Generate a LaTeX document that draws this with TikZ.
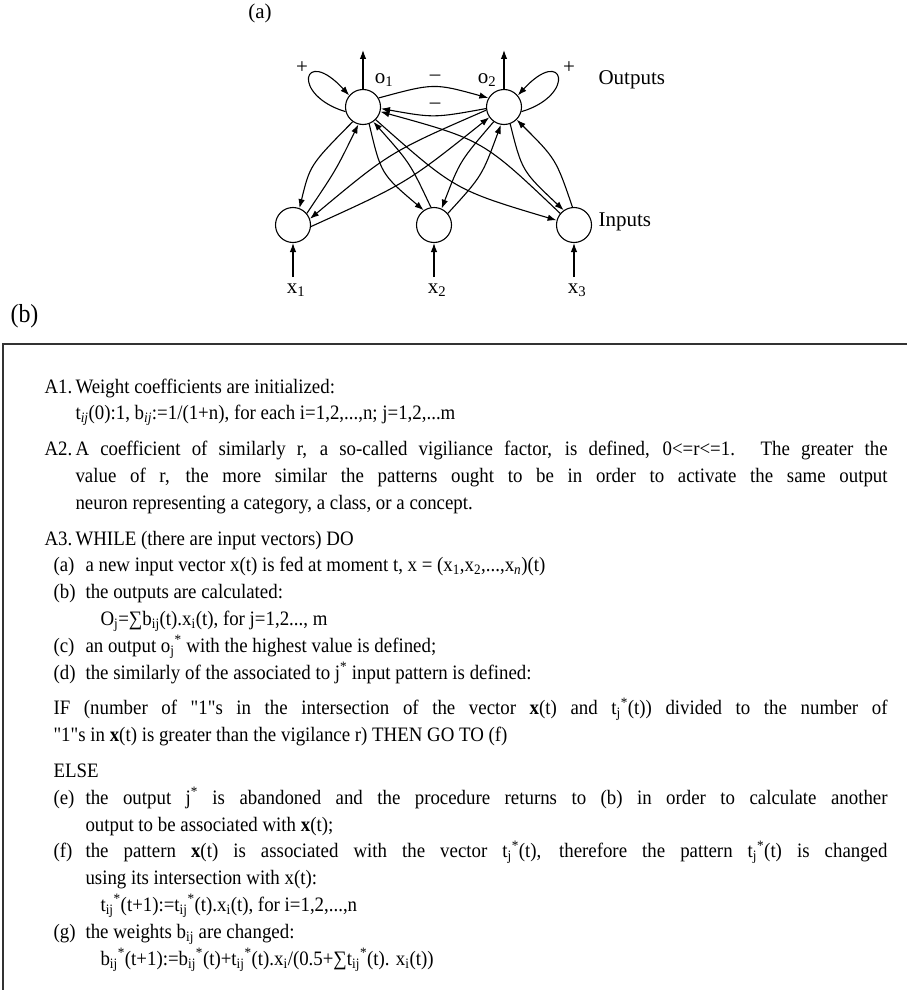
\documentclass[tikz,border=0pt]{standalone}
\usepackage{fontspec}
\setmainfont{Liberation Serif}
\newfontfamily\bodyfont[FakeStretch=0.92]{Liberation Serif}
\usetikzlibrary{arrows.meta}
\newcommand\sbs[1]{\textsubscript{#1}}
\newcommand\sps[1]{\textsuperscript{#1}}
\begin{document}
\begin{tikzpicture}[x=1pt,y=-1pt,line width=1.1pt,
  >={Latex[length=9pt,width=6.5pt]},
  neuron/.style={circle,draw,minimum size=35pt,inner sep=0pt},
  dlab/.style={inner sep=0pt,font=\fontsize{21}{24}\selectfont},
  txt/.style={anchor=base west,inner sep=0pt,font=\bodyfont\fontsize{20.5}{24}\selectfont},
  boxline/.style={line width=1.6pt,draw=black!80}]
\useasboundingbox (0,0) rectangle (906,990);
% ---------- (a) network ----------
\node[dlab] (alab) at (260,13) {(a)};
\node[neuron] (o1) at (363,107) {};
\node[neuron] (o2) at (504,107) {};
\node[neuron] (i1) at (293,225) {};
\node[neuron] (i2) at (434,225) {};
\node[neuron] (i3) at (574,225) {};
% outputs
\coordinate (o1t) at (363,50);
\coordinate (o2t) at (504,50);
\draw[->] (o1) -- (o1t);
\draw[->] (o2) -- (o2t);
\node[dlab] (o1lab) at (384,80) {o\sbs{1}};
\node[dlab] (o2lab) at (487,80) {o\sbs{2}};
\node[dlab,anchor=west] (outlab) at (598,80) {Outputs};
\node[dlab,anchor=west] (inlab) at (598,222) {Inputs};
% self loops
\draw[->] (o1.195) .. controls (290,95) and (303,45) .. (o1.140);
\draw[->] (o2.-15) .. controls (577,95) and (564,45) .. (o2.40);
\node[dlab] (p1) at (302,68) {+};
\node[dlab] (p2) at (569,68) {+};
% lateral inhibition
\draw[->] (o1.30) .. controls (434,83) .. (o2.150);
\draw[->] (o2.185) .. controls (434,118) .. (o1.355);
\node[dlab] (m1) at (435,78) {–};
\node[dlab] (m2) at (435,106) {–};
% inputs
\coordinate (x1s) at (293,277);
\coordinate (x2s) at (434,277);
\coordinate (x3s) at (574,277);
\draw[->] (x1s) -- (i1);
\draw[->] (x2s) -- (i2);
\draw[->] (x3s) -- (i3);
\node[dlab] (x1) at (296,290) {x\sbs{1}};
\node[dlab] (x2) at (437,290) {x\sbs{2}};
\node[dlab] (x3) at (577,290) {x\sbs{3}};
% o1 <-> i1
\draw[->] (o1.235) .. controls (310,165) .. (i1.69);
\draw[->] (i1.40) .. controls (336,170) .. (o1.255);
% o1 <-> i2
\draw[->] (o1.290) .. controls (381,174) .. (i2.125);
\draw[->] (i2.100) .. controls (410,163) .. (o1.305);
% o1 <-> i3
\draw[->] (o1.315) .. controls (455,190) .. (i3.165);
\draw[->] (i3.140) .. controls (483,140) .. (o1.345);
% o2 <-> i1
\draw[->] (o2.190) .. controls (390,152) .. (i1.20);
\draw[->] (i1.-5) .. controls (407,183) .. (o2.215);
% o2 <-> i2
\draw[->] (o2.235) .. controls (460,161) .. (i2.65);
\draw[->] (i2.40) .. controls (482,176) .. (o2.260);
% o2 <-> i3
\draw[->] (o2.290) .. controls (522,171) .. (i3.125);
\draw[->] (i3.95) .. controls (556,159) .. (o2.315);
% ---------- (b) algorithm ----------
\node[anchor=west,inner sep=0pt,font=\bodyfont\fontsize{26}{30}\selectfont] (blab) at (10,316) {(b)};
\coordinate (bxtl) at (3,344);
\coordinate (bxtr) at (920,344);
\coordinate (bxbl) at (3,1000);
\draw[boxline] (bxbl) -- (bxtl) -- (bxtr);
% A1
\node[txt] (l1a) at (44,393) {A1.};
\node[txt] (l1) at (75,393) {Weight coefficients are initialized:};
\node[txt] (l2) at (75,419.8) {t\sbs{\textit{ij}}(0):1, b\sbs{\textit{ij}}:=1/(1+n), for each i=1,2,...,n; j=1,2,...m};
% A2
\node[txt] (l3a) at (44,455.6) {A2.};
\node[txt] (l3) at (75,455.6) {\makebox[812pt][s]{A coefficient of similarly r, a so-called vigiliance factor, is defined, 0<=r<=1. The greater the}};
\node[txt] (l4) at (75,482.4) {\makebox[812pt][s]{value of r, the more similar the patterns ought to be in order to activate the same output}};
\node[txt] (l5) at (75,509.2) {neuron representing a category, a class, or a concept.};
% A3
\node[txt] (l6a) at (44,545) {A3.};
\node[txt] (l6) at (75,545) {WHILE (there are input vectors) DO};
\node[txt] (l7a) at (53,571.8) {(a)};
\node[txt] (l7) at (85,571.8) {a new input vector x(t) is fed at moment t, x = (x\sbs{1},x\sbs{2},...,x\sbs{\textit{n}})(t)};
\node[txt] (l8a) at (53,598.6) {(b)};
\node[txt] (l8) at (85,598.6) {the outputs are calculated:};
\node[txt] (l9) at (100,625.4) {O\sbs{j}=∑b\sbs{ij}(t).x\sbs{i}(t), for j=1,2..., m};
\node[txt] (l10a) at (53,652.2) {(c)};
\node[txt] (l10) at (85,652.2) {an output o\sbs{j}\sps{*} with the highest value is defined;};
\node[txt] (l11a) at (53,679) {(d)};
\node[txt] (l11) at (85,679) {the similarly of the associated to j\sps{*} input pattern is defined:};
\node[txt] (l12) at (53,714.8) {\makebox[834pt][s]{IF (number of "1"s in the intersection of the vector \textbf{x}(t) and t\sbs{j}\sps{*}(t)) divided to the number of}};
\node[txt] (l13) at (53,741.6) {"1"s in \textbf{x}(t) is greater than the vigilance r) THEN GO TO (f)};
\node[txt] (l14) at (53,777.4) {ELSE};
\node[txt] (l15a) at (53,804.2) {(e)};
\node[txt] (l15) at (85,804.2) {\makebox[802pt][s]{the output j\sps{*} is abandoned and the procedure returns to (b) in order to calculate another}};
\node[txt] (l16) at (85,831) {output to be associated with \textbf{x}(t);};
\node[txt] (l17a) at (53,857.8) {(f)};
\node[txt] (l17) at (85,857.8) {\makebox[802pt][s]{the pattern \textbf{x}(t) is associated with the vector t\sbs{j}\sps{*}(t), therefore the pattern t\sbs{j}\sps{*}(t) is changed}};
\node[txt] (l18) at (85,884.6) {using its intersection with x(t):};
\node[txt] (l19) at (100,911.4) {t\sbs{ij}\sps{*}(t+1):=t\sbs{ij}\sps{*}(t).x\sbs{i}(t), for i=1,2,...,n};
\node[txt] (l20a) at (53,938.2) {(g)};
\node[txt] (l20) at (85,938.2) {the weights b\sbs{ij} are changed:};
\node[txt] (l21) at (100,965) {b\sbs{ij}\sps{*}(t+1):=b\sbs{ij}\sps{*}(t)+t\sbs{ij}\sps{*}(t).x\sbs{i}/(0.5+∑t\sbs{ij}\sps{*}(t). x\sbs{i}(t))};
\end{tikzpicture}
\end{document}
